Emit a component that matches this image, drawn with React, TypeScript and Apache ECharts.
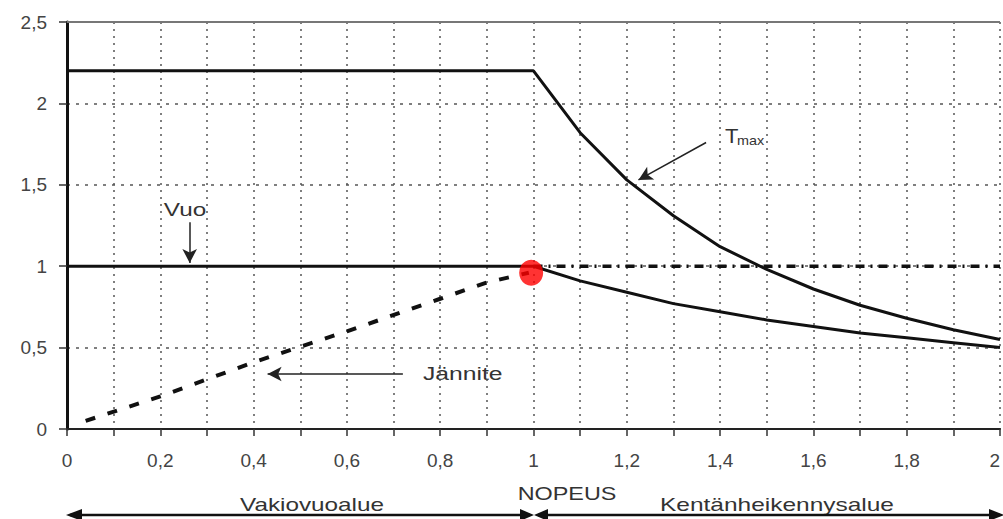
import React, { useEffect, useRef } from "react";
import * as echarts from "echarts";

const tmaxData: [number, number][] = [
  [0, 2.2], [1.0, 2.2], [1.1, 1.82], [1.2, 1.53], [1.3, 1.31], [1.4, 1.12],
  [1.5, 0.98], [1.6, 0.86], [1.7, 0.76], [1.8, 0.68], [1.9, 0.61], [2.0, 0.55],
];
const vuoData: [number, number][] = [
  [0, 1], [1.0, 1], [1.1, 0.91], [1.2, 0.84], [1.3, 0.77], [1.4, 0.72],
  [1.5, 0.67], [1.6, 0.63], [1.7, 0.59], [1.8, 0.56], [1.9, 0.53], [2.0, 0.5],
];
const janniteRising: [number, number][] = [
  [0.04, 0.05], [0.2, 0.2], [0.4, 0.41], [0.5, 0.505], [0.6, 0.6],
  [0.8, 0.8], [0.9, 0.9], [0.99, 0.96],
];
const janniteFlat: [number, number][] = [[1.0, 1], [2.0, 1]];
const cornerPoint: [number, number][] = [[0.995, 0.96]];

// annotation arrows (data coordinates)
const vuoArrow: [number, number][] = [[0.263, 1.27], [0.263, 1.02]];
const tmaxArrow: [number, number][] = [[1.37, 1.76], [1.225, 1.53]];
const janniteArrow: [number, number][] = [[0.72, 0.338], [0.43, 0.338]];

const fmt = (v: number) => String(Math.round(v * 10) / 10).replace(".", ",");

export default function App() {
  const ref = useRef<HTMLDivElement>(null);
  useEffect(() => {
    if (!ref.current) return;
    const chart = echarts.init(ref.current, null, { renderer: "svg" });
    const font = "Liberation Sans, Arial, sans-serif";
    const arrowLine = (pts: [number, number][]) => [
      { coord: pts[0], symbol: "none" },
      { coord: pts[1], symbol: "arrow" },
    ];
    chart.setOption({
      animation: false,
      backgroundColor: "#ffffff",
      grid: { left: 67, width: 936, top: 22, height: 407, containLabel: false },
      xAxis: {
        type: "value",
        min: 0,
        max: 2,
        interval: 0.1,
        axisLine: { show: true, lineStyle: { color: "#222", width: 2 } },
        axisTick: { show: true, length: 7, lineStyle: { color: "#333", width: 1.5 } },
        axisLabel: {
          interval: 0,
          margin: 22,
          fontSize: 19,
          fontFamily: font,
          color: "#444",
          alignMaxLabel: "right",
          formatter: (v: number) => (Math.round(v * 10) % 2 === 0 ? fmt(v) : ""),
        },
        splitLine: { show: true, lineStyle: { type: [2, 5], color: "#555", width: 1.5 } },
      },
      yAxis: {
        type: "value",
        min: 0,
        max: 2.5,
        interval: 0.5,
        axisLine: { show: true, lineStyle: { color: "#111", width: 3 } },
        axisTick: { show: true, length: 8, lineStyle: { color: "#333", width: 1.5 } },
        axisLabel: { margin: 20, fontSize: 19, fontFamily: font, color: "#444", formatter: fmt },
        splitLine: { show: true, lineStyle: { type: [3, 6], color: "#555", width: 1.5 } },
      },
      series: [
        {
          name: "Tmax",
          type: "line",
          data: tmaxData,
          symbol: "none",
          lineStyle: { color: "#111", width: 3 },
          z: 3,
          markLine: {
            silent: true,
            animation: false,
            label: { show: false },
            symbol: ["none", "none"],
            lineStyle: { type: "solid", color: "#777", width: 2 },
            data: [{ yAxis: 2.5 }],
          },
        },
        {
          name: "Vuo",
          type: "line",
          data: vuoData,
          symbol: "none",
          lineStyle: { color: "#111", width: 3 },
          z: 3,
          markLine: {
            silent: true,
            animation: false,
            label: { show: false },
            symbolSize: [11, 14],
            lineStyle: { type: "solid", color: "#222", width: 1.5 },
            data: [arrowLine(vuoArrow), arrowLine(tmaxArrow), arrowLine(janniteArrow)],
          },
        },
        {
          name: "Jännite",
          type: "line",
          data: janniteRising,
          symbol: "none",
          lineStyle: { color: "#111", width: 4, type: [10, 13] },
          z: 3,
        },
        {
          name: "Jännite2",
          type: "line",
          data: janniteFlat,
          symbol: "none",
          lineStyle: { color: "#111", width: 3.5, type: [9, 6, 2, 6] },
          z: 3,
        },
        {
          name: "corner",
          type: "scatter",
          data: cornerPoint,
          symbol: "circle",
          symbolSize: [24, 26],
          itemStyle: { color: "#ff0000" },
          z: 5,
        },
      ],
      graphic: [
        {
          type: "text", x: 185, y: 210, scaleX: 1.35,
          style: { text: "Vuo", font: `18px ${font}`, fill: "#333", textAlign: "center", textVerticalAlign: "middle" },
        },
        {
          type: "text", x: 423, y: 374, scaleX: 1.3,
          style: { text: "Jännite", font: `19px ${font}`, fill: "#333", textAlign: "left", textVerticalAlign: "middle" },
        },
        {
          type: "text", x: 725, y: 136, scaleX: 1.1,
          style: { text: "T", font: `20px ${font}`, fill: "#333", textAlign: "left", textVerticalAlign: "middle" },
        },
        {
          type: "text", x: 737, y: 141, scaleX: 1.2,
          style: { text: "max", font: `12px ${font}`, fill: "#333", textAlign: "left", textVerticalAlign: "middle" },
        },
        {
          type: "text", x: 567, y: 494, scaleX: 1.3,
          style: { text: "NOPEUS", font: `18px ${font}`, fill: "#333", textAlign: "center", textVerticalAlign: "middle" },
        },
        {
          type: "text", x: 312, y: 505, scaleX: 1.35,
          style: { text: "Vakiovuoalue", font: `18px ${font}`, fill: "#333", textAlign: "center", textVerticalAlign: "middle" },
        },
        {
          type: "text", x: 777, y: 505, scaleX: 1.36,
          style: { text: "Kentänheikennysalue", font: `18px ${font}`, fill: "#333", textAlign: "center", textVerticalAlign: "middle" },
        },
        { type: "line", shape: { x1: 70, y1: 515, x2: 530, y2: 515 }, style: { stroke: "#111", lineWidth: 2.5 } },
        { type: "line", shape: { x1: 538, y1: 515, x2: 1000, y2: 515 }, style: { stroke: "#111", lineWidth: 2.5 } },
        { type: "polygon", shape: { points: [[66, 515], [82, 509], [82, 521]] }, style: { fill: "#111" } },
        { type: "polygon", shape: { points: [[534, 515], [520, 509], [520, 521]] }, style: { fill: "#111" } },
        { type: "polygon", shape: { points: [[534, 515], [548, 509], [548, 521]] }, style: { fill: "#111" } },
        { type: "polygon", shape: { points: [[1004, 515], [989, 509], [989, 521]] }, style: { fill: "#111" } },
      ],
    });
    return () => chart.dispose();
  }, []);
  return (
    <div
      ref={ref}
      style={{ position: "fixed", left: 0, top: 0, width: 1003, height: 519, background: "#fff" }}
    />
  );
}
